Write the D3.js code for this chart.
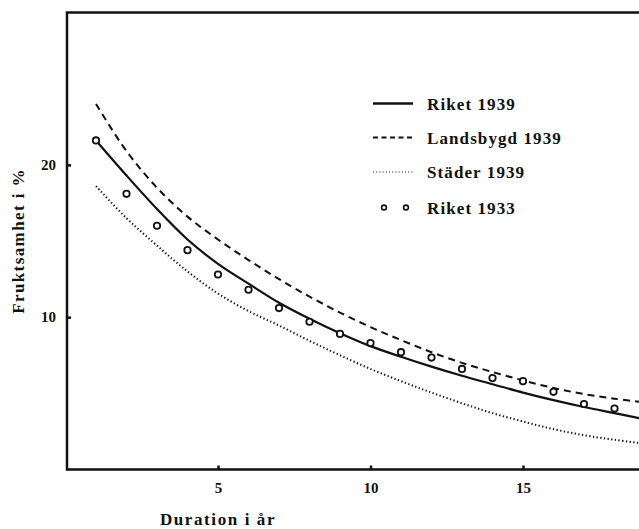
<!DOCTYPE html>
<html>
<head>
<meta charset="utf-8">
<script src="https://cdn.jsdelivr.net/npm/d3@7"></script>
<style>
  body { margin: 0; background: #fff; }
  svg { display: block; }
  text { font-family: 'Liberation Serif', 'DejaVu Serif', serif; font-weight: bold; fill: #111; }
</style>
</head>
<body>
<div id="chart"></div>
<script>
const years = [1, 2, 3, 4, 5, 6, 7, 8, 9, 10, 11, 12, 13, 14, 15, 16, 17, 18, 19];
const riket1939 = [21.6, 19.3, 17.1, 15.1, 13.5, 12.2, 10.95, 9.9, 8.95, 8.1, 7.4, 6.75, 6.15, 5.6, 5.05, 4.55, 4.1, 3.7, 3.3];
const landsbygd1939 = [24.0, 20.9, 18.5, 16.6, 15.1, 13.75, 12.5, 11.35, 10.3, 9.35, 8.5, 7.7, 7.0, 6.4, 5.85, 5.35, 4.95, 4.65, 4.4];
const stader1939 = [18.6, 16.5, 14.7, 13.0, 11.55, 10.4, 9.45, 8.45, 7.5, 6.6, 5.8, 5.05, 4.35, 3.7, 3.15, 2.65, 2.25, 1.95, 1.7];
const years1933 = [1, 2, 3, 4, 5, 6, 7, 8, 9, 10, 11, 12, 13, 14, 15, 16, 17, 18];
const riket1933 = [21.6, 18.1, 16.0, 14.4, 12.8, 11.8, 10.6, 9.7, 8.9, 8.3, 7.7, 7.35, 6.6, 6.0, 5.8, 5.1, 4.3, 4.0];
const xTicks = [5, 10, 15];
const yTicks = [10, 20];
const legendNames = ['Riket 1939', 'Landsbygd 1939', 'Städer 1939', 'Riket 1933'];

const width = 639;
const height = 529;
const margin = { top: 12, left: 67, bottom: 60 };

const svg = d3
  .select('#chart')
  .append('svg')
  .attr('width', width)
  .attr('height', height);

const x = d3.scaleLinear().domain([0, 20]).range([65.5, 675.5]);
const y = d3.scaleLinear().domain([0, 30]).range([469.5, 12.5]);

// frame: left, top, bottom (right side runs off the page)
svg
  .append('path')
  .attr('d', `M${width + 5},${y(30)} H${margin.left} V${y(0)} H${width + 5}`)
  .attr('fill', 'none')
  .attr('stroke', '#111')
  .attr('stroke-width', 2.5);

function xAxis(g) {
  g.attr('transform', `translate(0, ${y(0)})`)
    .call(d3.axisBottom(x).tickValues(xTicks).tickSize(-4).tickPadding(13).tickFormat(d3.format('d')))
    .call((g) => g.select('.domain').remove())
    .call((g) => g.selectAll('.tick line').attr('stroke', '#111').attr('stroke-width', 2.5));
  g.selectAll('.tick text').attr('font-size', '15px').attr('font-family', null);
}

function yAxis(g) {
  g.attr('transform', `translate(${margin.left}, 0)`)
    .call(d3.axisLeft(y).tickValues(yTicks).tickSize(-4).tickPadding(11).tickFormat(d3.format('d')))
    .call((g) => g.select('.domain').remove())
    .call((g) => g.selectAll('.tick line').attr('stroke', '#111').attr('stroke-width', 2.5));
  g.selectAll('.tick text').attr('font-size', '15px').attr('font-family', null);
}

svg.append('g').call(xAxis);
svg.append('g').call(yAxis);

svg
  .append('text')
  .attr('x', x(5))
  .attr('y', 525)
  .attr('text-anchor', 'middle')
  .attr('font-size', '17px')
  .attr('letter-spacing', '1.6px')
  .text('Duration i år');

svg
  .append('text')
  .attr('transform', 'translate(24, 241) rotate(-90)')
  .attr('text-anchor', 'middle')
  .attr('font-size', '17px')
  .attr('letter-spacing', '1.4px')
  .text('Fruktsamhet i %');

const line = d3
  .line()
  .x((d) => x(d[0]))
  .y((d) => y(d[1]))
  .curve(d3.curveCatmullRom);

const series = [
  { values: riket1939, width: 2.2, dash: null },
  { values: landsbygd1939, width: 2, dash: '7,5' },
  { values: stader1939, width: 2, dash: '1.3,2.4' },
];

svg
  .append('g')
  .selectAll('path')
  .data(series)
  .join('path')
  .attr('d', (s) => line(years.map((yr, i) => [yr, s.values[i]])))
  .attr('fill', 'none')
  .attr('stroke', '#111')
  .attr('stroke-width', (s) => s.width)
  .attr('stroke-dasharray', (s) => s.dash);

svg
  .append('g')
  .selectAll('circle')
  .data(riket1933)
  .join('circle')
  .attr('cx', (d, i) => x(years1933[i]))
  .attr('cy', (d) => y(d))
  .attr('r', 3.2)
  .attr('fill', '#fff')
  .attr('stroke', '#111')
  .attr('stroke-width', 1.8);

// legend
const legend = svg.append('g').attr('transform', 'translate(373, 0)');
const rowY = [103.5, 137.5, 172, 207.5];

legend.append('line').attr('x1', 0).attr('x2', 40).attr('y1', rowY[0]).attr('y2', rowY[0])
  .attr('stroke', '#111').attr('stroke-width', 2.5);
legend.append('line').attr('x1', 0).attr('x2', 40).attr('y1', rowY[1]).attr('y2', rowY[1])
  .attr('stroke', '#111').attr('stroke-width', 1.8).attr('stroke-dasharray', '5,3.5');
legend.append('line').attr('x1', 0).attr('x2', 40).attr('y1', rowY[2]).attr('y2', rowY[2])
  .attr('stroke', '#111').attr('stroke-width', 1.1).attr('stroke-dasharray', '1,2.2');
legend.selectAll('circle.key')
  .data([11, 33])
  .join('circle')
  .attr('class', 'key')
  .attr('cx', (d) => d)
  .attr('cy', rowY[3])
  .attr('r', 2.4)
  .attr('fill', '#fff')
  .attr('stroke', '#111')
  .attr('stroke-width', 1.6);

legend
  .selectAll('text')
  .data(legendNames)
  .join('text')
  .attr('x', 54)
  .attr('y', (d, i) => rowY[i] + 6)
  .attr('font-size', '17px')
  .attr('letter-spacing', '1.1px')
  .text((d) => d);
</script>
</body>
</html>
